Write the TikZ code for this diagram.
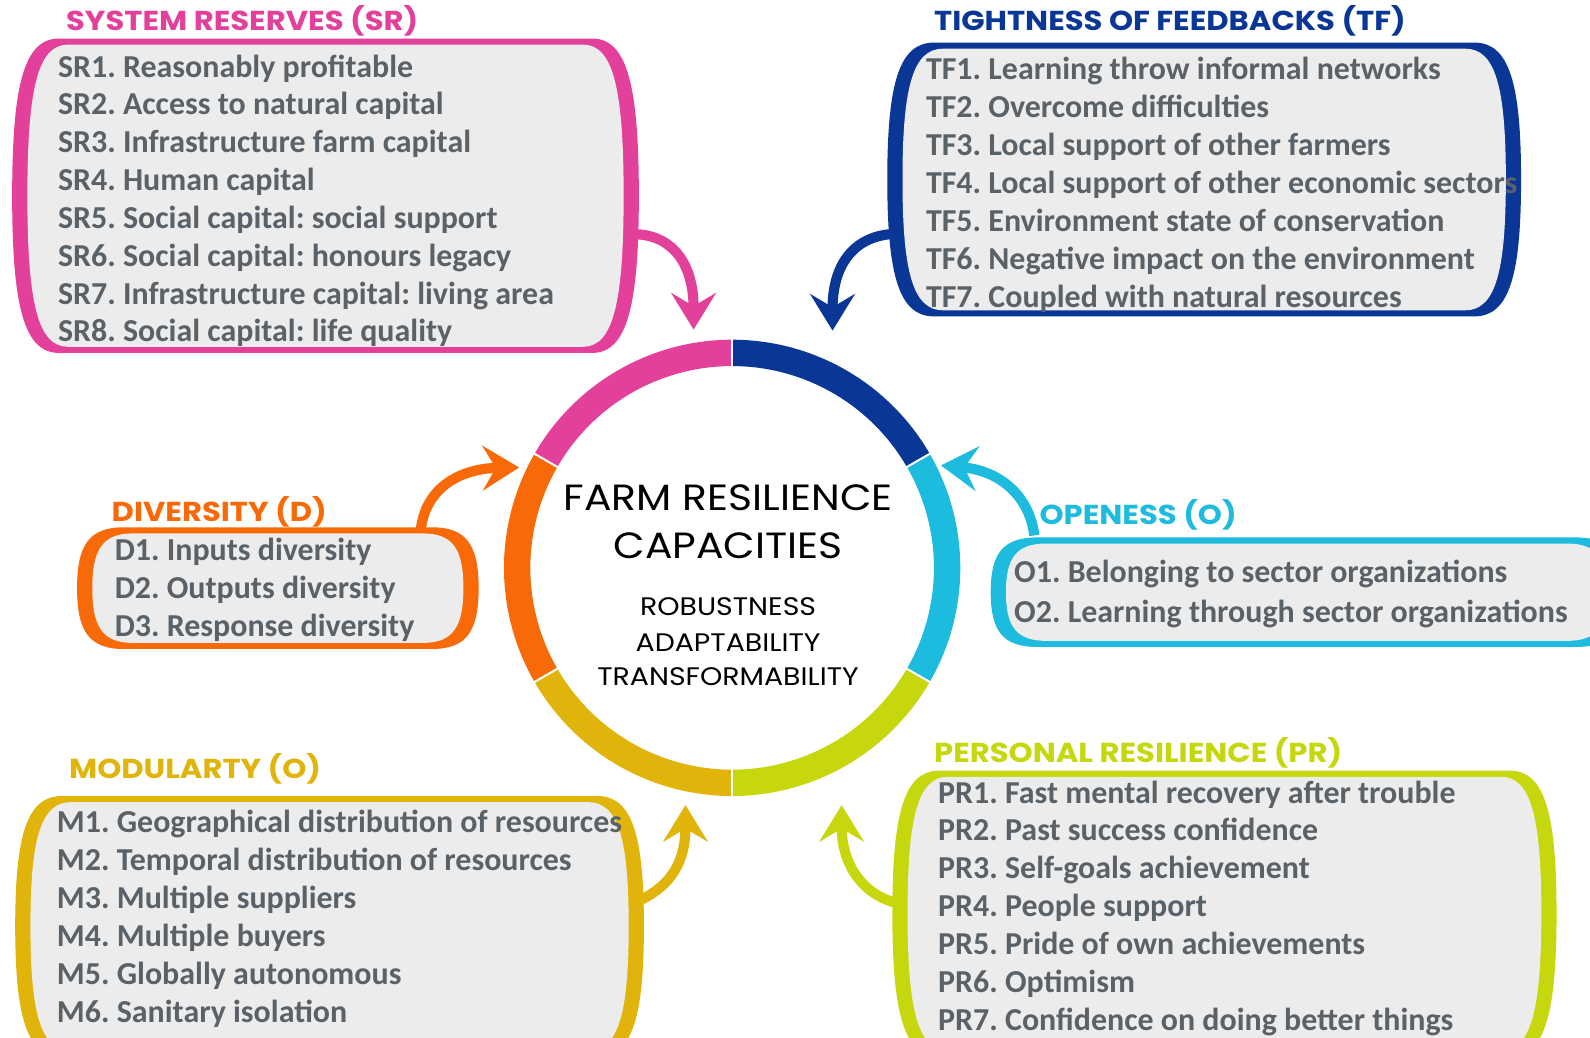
\documentclass[tikz,border=0pt]{standalone}
\usepackage{fontspec}
\setmainfont{Carlito}
\newfontfamily\headfont{Poppins}[FakeStretch=1.12]
\usetikzlibrary{arrows.meta}
\frenchspacing

\definecolor{cpink}{HTML}{E2409A}
\definecolor{cblue}{HTML}{0A3796}
\definecolor{ccyan}{HTML}{1DBBDD}
\definecolor{clime}{HTML}{C6D70E}
\definecolor{cgold}{HTML}{E0B40A}
\definecolor{corange}{HTML}{F86A08}
\definecolor{boxgray}{HTML}{ECECEC}
\definecolor{itemgray}{HTML}{5A6167}

% capsule outline: L, T, R, B, corner width
\newcommand\capsulepath[5]{%
  ({(#1)+(#5)},{#2}) -- ({(#3)-(#5)},{#2})
  .. controls ({(#3)-0.25*(#5)},{#2}) and ({#3},{(#2)+0.15*((#4)-(#2))}) .. ({#3},{((#2)+(#4))/2})
  .. controls ({#3},{(#4)-0.15*((#4)-(#2))}) and ({(#3)-0.25*(#5)},{#4}) .. ({(#3)-(#5)},{#4})
  -- ({(#1)+(#5)},{#4})
  .. controls ({(#1)+0.25*(#5)},{#4}) and ({#1},{(#4)-0.15*((#4)-(#2))}) .. ({#1},{((#2)+(#4))/2})
  .. controls ({#1},{(#2)+0.15*((#4)-(#2))}) and ({(#1)+0.25*(#5)},{#2}) .. ({(#1)+(#5)},{#2}) -- cycle}

% framed list box: L, T, R, B, colour
\newcommand\listbox[5]{%
  \fill[#5] \capsulepath{#1}{#2}{#3}{#4}{46};
  \fill[boxgray] \capsulepath{(#1)+15}{(#2)+6}{(#3)-15}{(#4)-6}{40};
}

\tikzset{
  item/.style={anchor=base west, inner sep=0pt, text=itemgray,
    font=\fontsize{31.5}{34}\selectfont\bfseries},
  heading/.style={anchor=base west, inner sep=0pt,
    font=\headfont\bfseries\fontsize{27}{30}\selectfont},
  flow/.style={line width=10pt,
    -{Stealth[length=36pt,width=44pt,inset=13pt]}},
  ring/.style={line width=26pt},
  hubtext/.style={inner sep=0pt, anchor=base, font=\headfont}
}

\begin{document}
\begin{tikzpicture}[x=1pt,y=-1pt]
\useasboundingbox (0,0) rectangle (1568,1023);
\fill[white] (0,0) rectangle (1568,1023);
\clip (0,0) rectangle (1568,1023);

% ---- central ring of six capacities
\coordinate (hub) at (722,560);
\draw[ring,cpink]   (hub) ++(-90:212)  arc (-90:-150:212);
\draw[ring,cblue]   (hub) ++(-30:212)  arc (-30:-90:212);
\draw[ring,ccyan]   (hub) ++(30:212)   arc (30:-30:212);
\draw[ring,clime]   (hub) ++(90:212)   arc (90:30:212);
\draw[ring,cgold]   (hub) ++(150:212)  arc (150:90:212);
\draw[ring,corange] (hub) ++(210:212)  arc (210:150:212);
\foreach \a in {-90,-30,30,90,150,210}
  \draw[white,line width=2pt] (hub) ++(\a:197) -- ++(\a:30);

\node[hubtext,font=\headfont\fontsize{36}{40}\selectfont] (t1) at (718,503) {FARM RESILIENCE};
\node[hubtext,font=\headfont\fontsize{36}{40}\selectfont] (t2) at (718,551) {CAPACITIES};
\node[hubtext,font=\headfont\fontsize{25}{28}\selectfont] (t3) at (718,607) {ROBUSTNESS};
\node[hubtext,font=\headfont\fontsize{25}{28}\selectfont] (t4) at (718,642) {ADAPTABILITY};
\node[hubtext,font=\headfont\fontsize{25}{28}\selectfont] (t5) at (718,676) {TRANSFORMABILITY};

% ---- System reserves
\listbox{12}{38}{630}{348}{cpink}
\node[heading,cpink] (srh) at (65,30) {SYSTEM RESERVES (SR)};
\foreach \t [count=\i] in {SR1. Reasonably profitable,SR2. Access to natural capital,
  SR3. Infrastructure farm capital,SR4. Human capital,SR5. Social capital: social support,
  SR6. Social capital: honours legacy,SR7. Infrastructure capital: living area,
  SR8. Social capital: life quality}
  \node[item] (sr\i) at (57,{76+37.3*(\i-1)}) {\t};

% ---- Tightness of feedbacks
\listbox{875}{42}{1500}{312}{cblue}
\node[heading,cblue] (tfh) at (921,30) {TIGHTNESS OF FEEDBACKS (TF)};
\foreach \t [count=\i] in {TF1. Learning throw informal networks,TF2. Overcome difficulties,
  TF3. Local support of other farmers,TF4. Local support of other economic sectors,
  TF5. Environment state of conservation,TF6. Negative impact on the environment,
  TF7. Coupled with natural resources}
  \node[item] (tf\i) at (913,{78+37.5*(\i-1)}) {\t};

% ---- Diversity
\listbox{76}{520}{472}{640}{corange}
\node[heading,corange] (dh) at (110,514) {DIVERSITY (D)};
\foreach \t [count=\i] in {D1. Inputs diversity,D2. Outputs diversity,D3. Response diversity}
  \node[item] (d\i) at (113,{553+37.5*(\i-1)}) {\t};

% ---- Openess
\listbox{977}{530}{1600}{638}{ccyan}
\node[heading,ccyan] (oh) at (1025,517) {OPENESS (O)};
\foreach \t [count=\i] in {O1. Belonging to sector organizations,O2. Learning through sector organizations}
  \node[item] (o\i) at (1000,{574+40*(\i-1)}) {\t};

% ---- Modularity
\listbox{15}{785}{635}{1042}{cgold}
\node[heading,cgold] (mh) at (68,768) {MODULARTY (O)};
\foreach \t [count=\i] in {M1. Geographical distribution of resources,M2. Temporal distribution of resources,
  M3. Multiple suppliers,M4. Multiple buyers,M5. Globally autonomous,M6. Sanitary isolation}
  \node[item] (m\i) at (56,{821+37.4*(\i-1)}) {\t};

% ---- Personal resilience
\listbox{880}{760}{1535}{1042}{clime}
\node[heading,clime] (prh) at (921,752) {PERSONAL RESILIENCE (PR)};
\foreach \t [count=\i] in {PR1. Fast mental recovery after trouble,PR2. Past success confidence,
  PR3. Self-goals achievement,PR4. People support,PR5. Pride of own achievements,
  PR6. Optimism,PR7. Confidence on doing better things}
  \node[item] (pr\i) at (925,{792+37.3*(\i-1)}) {\t};

% ---- connectors from each box into the ring
\coordinate (srA) at (628,231);  \coordinate (srB) at (684,325);
\coordinate (tfA) at (877,231);  \coordinate (tfB) at (821,326);
\coordinate (dA)  at (415,522);  \coordinate (dB)  at (512,461);
\coordinate (oA)  at (1020,528); \coordinate (oB)  at (928,459);
\coordinate (mA)  at (633,887);  \coordinate (mB)  at (676,794);
\coordinate (prA) at (882,890);  \coordinate (prB) at (830,794);

\draw[flow,cpink]   (srA) .. controls (665,233) and (684,262) .. (srB);
\draw[flow,cblue]   (tfA) .. controls (840,235) and (821,263) .. (tfB);
\draw[flow,corange] (dA)  .. controls (420,480) and (455,462) .. (dB);
\draw[flow,ccyan]   (oA)  .. controls (1015,488) and (985,464) .. (oB);
\draw[flow,cgold]   (mA)  .. controls (662,872) and (676,850) .. (mB);
\draw[flow,clime]   (prA) .. controls (848,880) and (830,850) .. (prB);
\end{tikzpicture}
\end{document}
